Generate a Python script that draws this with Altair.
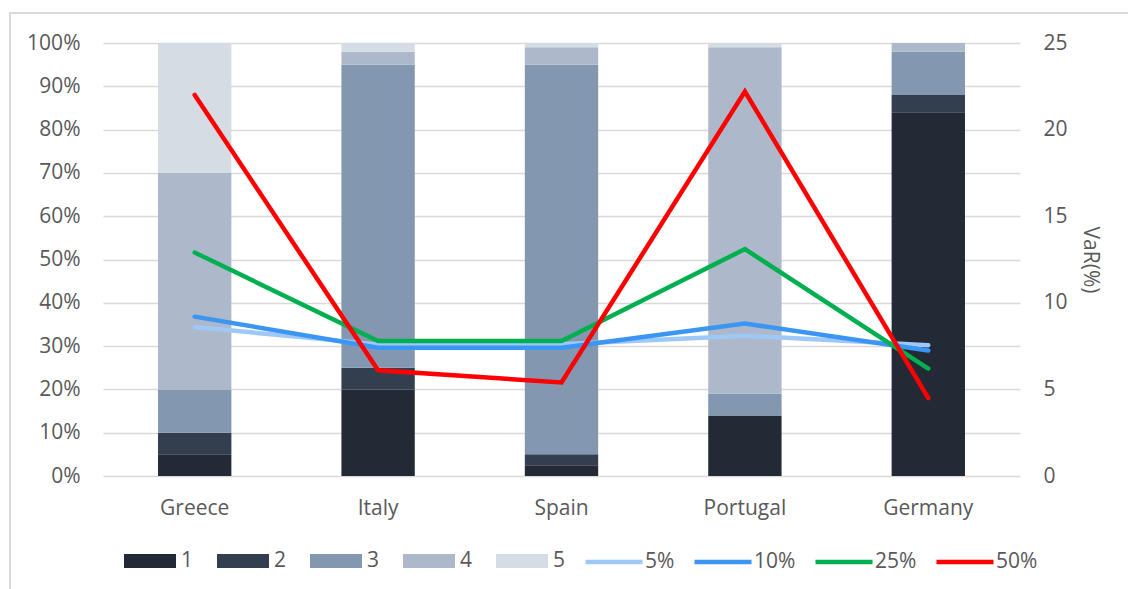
import altair as alt
import pandas as pd

countries = ["Greece", "Italy", "Spain", "Portugal", "Germany"]
levels = ["1", "2", "3", "4", "5"]
level_colors = ["#232a35", "#333f4f", "#8497b0", "#adb9ca", "#d6dce4"]
# share of each level per country (percent)
share_1 = [5, 20, 2.5, 14, 84]
share_2 = [5, 5, 2.5, 0, 4]
share_3 = [10, 70, 90, 5, 10]
share_4 = [50, 3, 4, 80, 2]
share_5 = [30, 2, 1, 1, 0]

var_series = ["5%", "10%", "25%", "50%"]
var_colors = ["#9dc8f7", "#3a96f2", "#00b050", "#ff0000"]
var_5 = [8.6, 7.6, 7.6, 8.1, 7.55]
var_10 = [9.2, 7.4, 7.4, 8.8, 7.25]
var_25 = [12.9, 7.8, 7.8, 13.1, 6.2]
var_50 = [22.0, 6.1, 5.4, 22.2, 4.5]

shares = [share_1, share_2, share_3, share_4, share_5]
bar_rows = []
for li, (lvl, vals) in enumerate(zip(levels, shares)):
    for c, v in zip(countries, vals):
        bar_rows.append({"country": c, "level": lvl, "order": li, "share": v / 100})
bars_df = pd.DataFrame(bar_rows)

var_lists = [var_5, var_10, var_25, var_50]
line_rows = []
for s, vals in zip(var_series, var_lists):
    for c, v in zip(countries, vals):
        line_rows.append({"country": c, "series": s, "var": v})
lines_df = pd.DataFrame(line_rows)

FONT = "Open Sans"
GRAY = "#595959"

x_enc = alt.X(
    "country:N",
    sort=countries,
    scale=alt.Scale(paddingInner=0.6, paddingOuter=0.3),
    axis=alt.Axis(title=None, labelAngle=0, ticks=False, domain=False,
                  labelPadding=21, labelFontSize=21),
)

bars = alt.Chart(bars_df).mark_bar().encode(
    x=x_enc,
    y=alt.Y(
        "share:Q",
        stack="zero",
        scale=alt.Scale(domain=[0, 1], nice=False),
        axis=alt.Axis(title=None, format=".0%",
                      values=[i / 10 for i in range(11)],
                      grid=True, gridColor="#d9d9d9", gridWidth=1.5,
                      ticks=False, domain=False, labelPadding=23,
                      labelFontSize=21),
    ),
    color=alt.Color(
        "level:N",
        sort=levels,
        scale=alt.Scale(domain=levels, range=level_colors),
        legend=alt.Legend(
            title=None, orient="none", direction="horizontal",
            legendX=21, legendY=492,
            symbolType="M-1,-0.27H1V0.27H-1Z", symbolSize=2704,
            symbolStrokeWidth=0, symbolOpacity=1,
            labelFontSize=21, labelColor=GRAY, labelFont=FONT,
            labelOffset=5, columnPadding=23, padding=0,
        ),
    ),
    order=alt.Order("order:Q", sort="ascending"),
)

lines = alt.Chart(lines_df).mark_line(strokeWidth=4.5, strokeCap="round").encode(
    x=x_enc,
    y=alt.Y(
        "var:Q",
        scale=alt.Scale(domain=[0, 25], nice=False),
        axis=alt.Axis(title="VaR(%)", orient="right",
                      values=[0, 5, 10, 15, 20, 25], grid=False,
                      ticks=False, domain=False, labelPadding=23,
                      labelFontSize=21, titleFontSize=21,
                      titleFontWeight="normal", titleColor=GRAY,
                      titlePadding=12),
    ),
    color=alt.Color(
        "series:N",
        sort=var_series,
        scale=alt.Scale(domain=var_series, range=var_colors),
        legend=alt.Legend(
            title=None, orient="none", direction="horizontal",
            legendX=480, legendY=488,
            symbolType="stroke", symbolSize=3249, symbolStrokeWidth=4.5,
            labelFontSize=21, labelColor=GRAY, labelFont=FONT,
            labelOffset=0, columnPadding=10, padding=0,
        ),
    ),
)

frame = alt.Chart(pd.DataFrame({"k": [0]})).mark_rect(
    fill=None, stroke="#d9d9d9", strokeWidth=2
).encode(
    x=alt.value(-93), x2=alt.value(1040),
    y=alt.value(-30), y2=alt.value(560),
)

chart = alt.layer(frame, bars, lines).resolve_scale(
    y="independent", color="independent"
).properties(
    width=917, height=433,
    autosize=alt.AutoSizeParams(type="none"),
    padding={"left": 103, "top": 43, "right": 108, "bottom": 113},
    background="white",
).configure_view(stroke=None).configure_axis(
    labelFont=FONT, titleFont=FONT, labelColor=GRAY,
)

chart.save("out.html", embed_options={"renderer": "svg", "actions": False})
